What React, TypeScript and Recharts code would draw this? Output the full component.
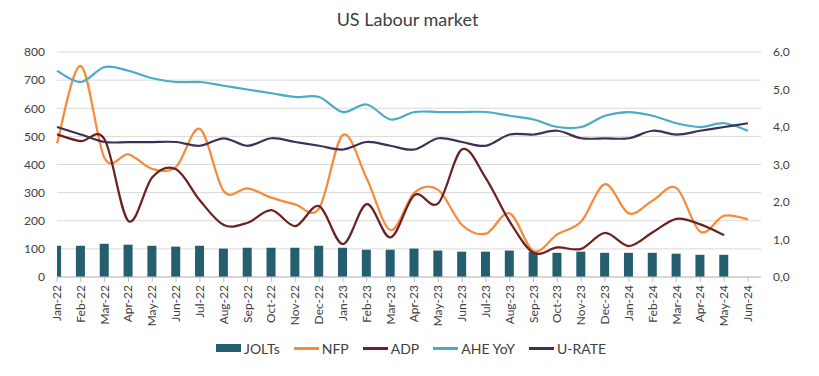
import React from 'react'
import { ComposedChart, Bar, Line, XAxis, YAxis, CartesianGrid } from 'recharts'

const months = [
  'Jan-22', 'Feb-22', 'Mar-22', 'Apr-22', 'May-22', 'Jun-22', 'Jul-22', 'Aug-22', 'Sep-22', 'Oct-22',
  'Nov-22', 'Dec-22', 'Jan-23', 'Feb-23', 'Mar-23', 'Apr-23', 'May-23', 'Jun-23', 'Jul-23', 'Aug-23',
  'Sep-23', 'Oct-23', 'Nov-23', 'Dec-23', 'Jan-24', 'Feb-24', 'Mar-24', 'Apr-24', 'May-24', 'Jun-24',
]

// left axis (thousands)
const jolts = [111, 111, 118, 115, 111, 108, 111, 101, 104, 104, 104, 111, 104, 97, 97, 101, 94, 90, 90, 94, 90, 86, 90, 86, 86, 86, 83, 79, 79, null]
const nfp = [475, 750, 422, 436, 384, 392, 526, 305, 315, 282, 258, 244, 505, 350, 167, 300, 310, 185, 154, 226, 92, 152, 197, 330, 226, 272, 316, 161, 218, 205]
const adp = [507, 483, 489, 199, 355, 383, 272, 185, 193, 238, 181, 252, 117, 259, 141, 291, 262, 454, 351, 197, 86, 105, 100, 157, 110, 159, 207, 187, 149, null]

// right axis (%)
const aheYoy = [5.5, 5.2, 5.6, 5.5, 5.3, 5.2, 5.2, 5.1, 5.0, 4.9, 4.8, 4.8, 4.4, 4.6, 4.2, 4.4, 4.4, 4.4, 4.4, 4.3, 4.2, 4.0, 4.0, 4.3, 4.4, 4.3, 4.1, 4.0, 4.1, 3.9]
const uRate = [4.0, 3.8, 3.6, 3.6, 3.6, 3.6, 3.5, 3.7, 3.5, 3.7, 3.6, 3.5, 3.4, 3.6, 3.5, 3.4, 3.7, 3.6, 3.5, 3.8, 3.8, 3.9, 3.7, 3.7, 3.7, 3.9, 3.8, 3.9, 4.0, 4.1]

const leftTicks = [0, 100, 200, 300, 400, 500, 600, 700, 800]
const rightTicks = [0, 1, 2, 3, 4, 5, 6]

const data = months.map((month, i) => ({
  month,
  jolts: jolts[i],
  nfp: nfp[i],
  adp: adp[i],
  ahe: aheYoy[i],
  urate: uRate[i],
}))

const FONT = 'Lato, "Open Sans", sans-serif'
const TEXT = '#404040'
const PLOT_LEFT = 57

const COLORS = {
  jolts: '#255E6E',
  nfp: '#F68B3C',
  adp: '#6B2222',
  ahe: '#4BACC6',
  urate: '#403152',
}

// Excel style smoothed line (catmull-rom through the points)
function excelCurve(context: any) {
  let pts: [number, number][] = []
  return {
    areaStart() {},
    areaEnd() {},
    lineStart() {
      pts = []
    },
    lineEnd() {
      const n = pts.length
      if (!n) return
      context.moveTo(pts[0][0], pts[0][1])
      for (let i = 0; i < n - 1; i++) {
        const p0 = pts[Math.max(i - 1, 0)]
        const p1 = pts[i]
        const p2 = pts[i + 1]
        const p3 = pts[Math.min(i + 2, n - 1)]
        context.bezierCurveTo(
          p1[0] + (p2[0] - p0[0]) / 6,
          p1[1] + (p2[1] - p0[1]) / 6,
          p2[0] - (p3[0] - p1[0]) / 6,
          p2[1] - (p3[1] - p1[1]) / 6,
          p2[0],
          p2[1]
        )
      }
    },
    point(x: number, y: number) {
      pts.push([+x, +y])
    },
  }
}

const MonthTick = (props: any) => {
  const { x, y, payload } = props
  return (
    <text
      x={x}
      y={y}
      dy={4}
      transform={`rotate(-90, ${x}, ${y})`}
      textAnchor="end"
      fill={TEXT}
      fontSize={12}
      fontFamily={FONT}
    >
      {payload.value}
    </text>
  )
}

// clip the first bar at the plot edge like excel does
const JoltsBar = (props: any) => {
  const { x, y, width, height, fill } = props
  if (height == null || isNaN(height)) return null
  const x0 = Math.max(x, PLOT_LEFT)
  return <rect x={x0} y={y} width={Math.max(0, x + width - x0)} height={height} fill={fill} />
}

const legendItems = [
  { key: 'jolts', label: 'JOLTs', bar: true },
  { key: 'nfp', label: 'NFP' },
  { key: 'adp', label: 'ADP' },
  { key: 'ahe', label: 'AHE YoY' },
  { key: 'urate', label: 'U-RATE' },
]

export default function App() {
  return (
    <div style={{ position: 'absolute', left: 0, top: 0, width: 819, height: 376, background: '#fff', fontFamily: FONT }}>
      <div
        style={{
          position: 'absolute',
          top: 8,
          left: 0,
          width: 815,
          textAlign: 'center',
          fontSize: 18,
          color: TEXT,
        }}
      >
        US Labour market
      </div>
      <ComposedChart width={819} height={376} data={data} margin={{ top: 52, right: 8, left: 7, bottom: 49 }}>
        <CartesianGrid yAxisId="left" vertical={false} stroke="#D9D9D9" />
        <XAxis
          dataKey="month"
          scale="point"
          padding={{ left: 0, right: 13 }}
          interval={0}
          height={50}
          tick={<MonthTick />}
          tickSize={5}
          tickMargin={3}
          stroke="#BFBFBF"
          axisLine={{ stroke: '#BFBFBF' }}
          tickLine={{ stroke: '#BFBFBF' }}
        />
        <YAxis
          yAxisId="left"
          domain={[0, 800]}
          ticks={leftTicks}
          width={50}
          axisLine={false}
          tickLine={false}
          tickMargin={6}
          tick={{ fill: TEXT, fontSize: 12, fontFamily: FONT }}
        />
        <YAxis
          yAxisId="right"
          orientation="right"
          domain={[0, 6]}
          ticks={rightTicks}
          width={50}
          axisLine={false}
          tickLine={false}
          tickMargin={6}
          tickFormatter={(v) => Number(v).toFixed(1).replace('.', ',')}
          tick={{ fill: TEXT, fontSize: 12, fontFamily: FONT, textAnchor: 'start' }}
        />
        <Bar yAxisId="left" dataKey="jolts" fill={COLORS.jolts} barSize={9} shape={<JoltsBar />} isAnimationActive={false} />
        <Line yAxisId="left" dataKey="nfp" type={excelCurve as any} stroke={COLORS.nfp} strokeWidth={2.25} dot={false} isAnimationActive={false} />
        <Line yAxisId="left" dataKey="adp" type={excelCurve as any} stroke={COLORS.adp} strokeWidth={2.25} dot={false} isAnimationActive={false} />
        <Line yAxisId="right" dataKey="ahe" type={excelCurve as any} stroke={COLORS.ahe} strokeWidth={2.25} dot={false} isAnimationActive={false} />
        <Line yAxisId="right" dataKey="urate" type={excelCurve as any} stroke={COLORS.urate} strokeWidth={2.25} dot={false} isAnimationActive={false} />
      </ComposedChart>
      <div
        style={{
          position: 'absolute',
          top: 338,
          left: 216,
          display: 'flex',
          alignItems: 'center',
          fontSize: 14,
          color: TEXT,
          height: 20,
        }}
      >
        {legendItems.map((it) => (
          <div key={it.key} style={{ display: 'flex', alignItems: 'center', marginRight: 14 }}>
            <span
              style={{
                display: 'inline-block',
                width: 25,
                height: it.bar ? 8 : 3,
                background: (COLORS as any)[it.key],
                marginRight: 3,
              }}
            />
            <span>{it.label}</span>
          </div>
        ))}
      </div>
    </div>
  )
}
